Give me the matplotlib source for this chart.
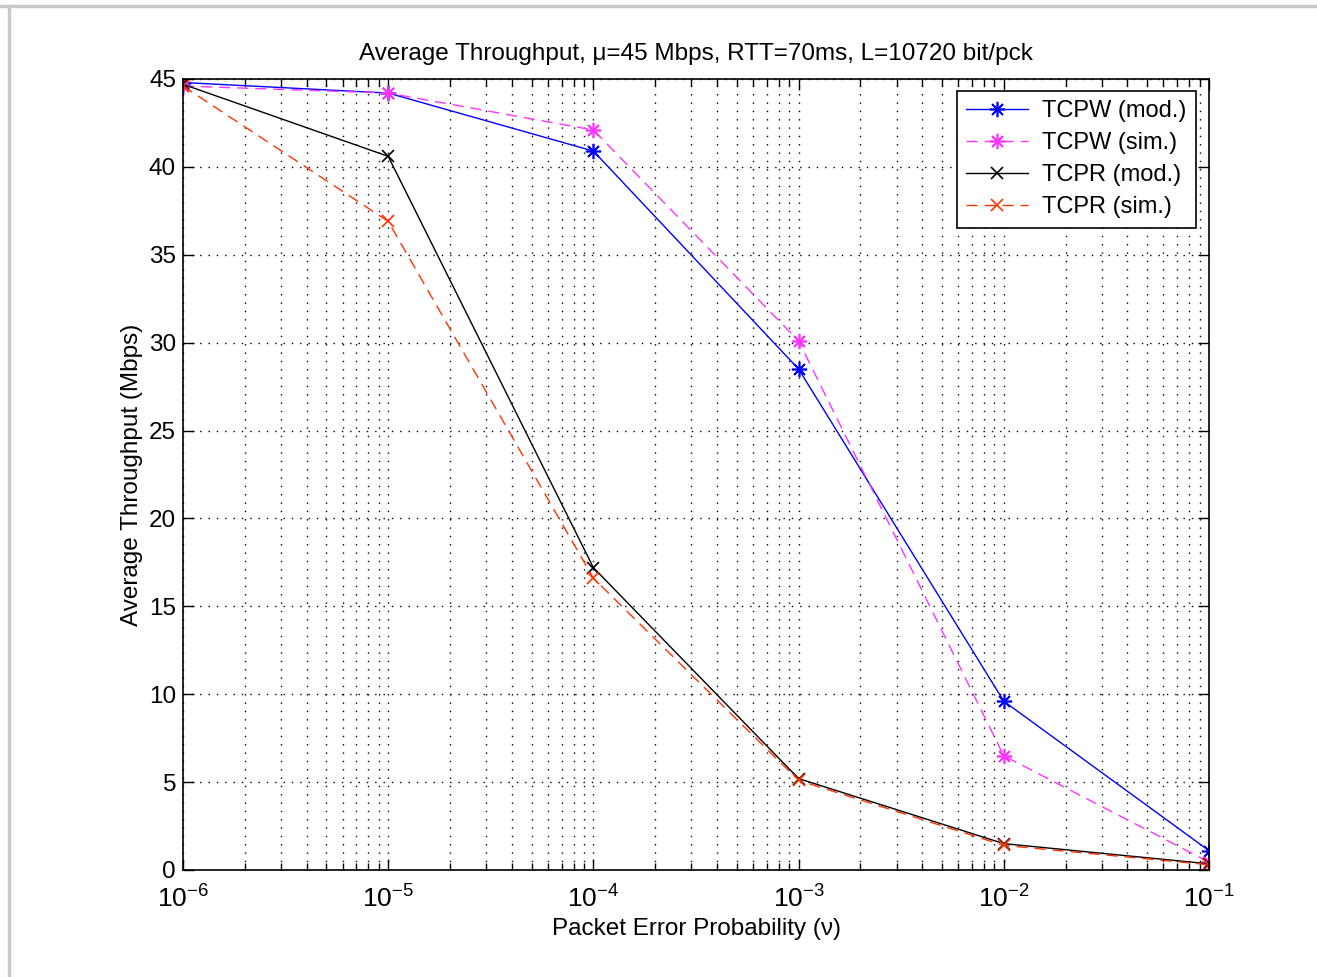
import matplotlib
matplotlib.use("Agg")
import matplotlib.pyplot as plt
from matplotlib.lines import Line2D
from matplotlib.ticker import LogLocator, MultipleLocator, NullFormatter

plt.rcParams['font.family'] = ['Liberation Sans', 'DejaVu Sans']
plt.rcParams['mathtext.default'] = 'regular'

x_vals = [1e-6, 1e-5, 1e-4, 1e-3, 1e-2, 1e-1]
tcpw_mod = [44.8, 44.2, 40.9, 28.5, 9.6, 1.1]
tcpw_sim = [44.6, 44.2, 42.1, 30.1, 6.5, 0.45]
tcpr_mod = [44.7, 40.6, 17.2, 5.2, 1.5, 0.35]
tcpr_sim = [44.6, 36.9, 16.6, 5.1, 1.4, 0.3]
labels = ['TCPW (mod.)', 'TCPW (sim.)', 'TCPR (mod.)', 'TCPR (sim.)']
title = 'Average Throughput, \u03bc=45 Mbps, RTT=70ms, L=10720 bit/pck'
xlabel = 'Packet Error Probability (\u03bd)'
ylabel = 'Average Throughput (Mbps)'

fig = plt.figure(figsize=(13.17, 9.77), dpi=100)
# screenshot-like gray border at top and left
fig.add_artist(Line2D([0, 1], [1 - 6/977, 1 - 6/977], color='#c8c8c8', lw=2.5, transform=fig.transFigure))
fig.add_artist(Line2D([9/1317, 9/1317], [0, 1 - 6/977], color='#c8c8c8', lw=2.5, transform=fig.transFigure))

ax = fig.add_axes([183/1317, 1 - 870/977, (1209 - 183)/1317, (870 - 79)/977])

ast = (8, 2, 0)
ax.plot(x_vals, tcpw_mod, color='#0000ff', ls='-', marker=ast, ms=11, mew=1.2, lw=1, label=labels[0])
ax.plot(x_vals, tcpw_sim, color='#ff33ff', ls=(0, (8, 5)), marker=ast, ms=11, mew=1.2, lw=1, label=labels[1])
ax.plot(x_vals, tcpr_mod, color='black', ls='-', marker='x', ms=8, mew=1.2, lw=1, label=labels[2])
ax.plot(x_vals, tcpr_sim, color='#ff3300', ls=(0, (8, 5)), marker='x', ms=8, mew=1.2, lw=1, label=labels[3])

ax.set_xscale('log')
ax.set_xlim(1e-6, 1e-1)
ax.set_ylim(0, 45)
ax.yaxis.set_major_locator(MultipleLocator(5))
ax.xaxis.set_major_locator(LogLocator(base=10, numticks=10))
ax.xaxis.set_minor_locator(LogLocator(base=10, subs=range(2, 10), numticks=20))
ax.xaxis.set_minor_formatter(NullFormatter())

ax.grid(True, which='major', axis='both', color='black', ls=(0, (1, 5)), lw=1)
ax.grid(True, which='minor', axis='x', color='black', ls=(0, (1, 5)), lw=1)

ax.tick_params(which='both', direction='in', top=True, right=True, width=1)
ax.tick_params(axis='y', labelsize=17.5, pad=5)
ax.tick_params(axis='x', labelsize=19, pad=11)
ax.tick_params(which='major', length=8)
ax.tick_params(which='minor', length=5)
for s in ax.spines.values():
    s.set_linewidth(1.2)

ax.set_title(title, fontsize=17.5, pad=14)
ax.set_xlabel(xlabel, fontsize=17.5, labelpad=4)
ax.set_ylabel(ylabel, fontsize=17.5, labelpad=4)

leg = ax.legend(loc='upper right', fontsize=17, frameon=True, fancybox=False,
                edgecolor='black', framealpha=1, handlelength=2.6,
                borderaxespad=0.0, labelspacing=0.42, borderpad=0.4,
                handletextpad=0.6, bbox_to_anchor=(0.987, 0.985))
leg.get_frame().set_linewidth(1.2)

fig.savefig('out.png', dpi=100)
